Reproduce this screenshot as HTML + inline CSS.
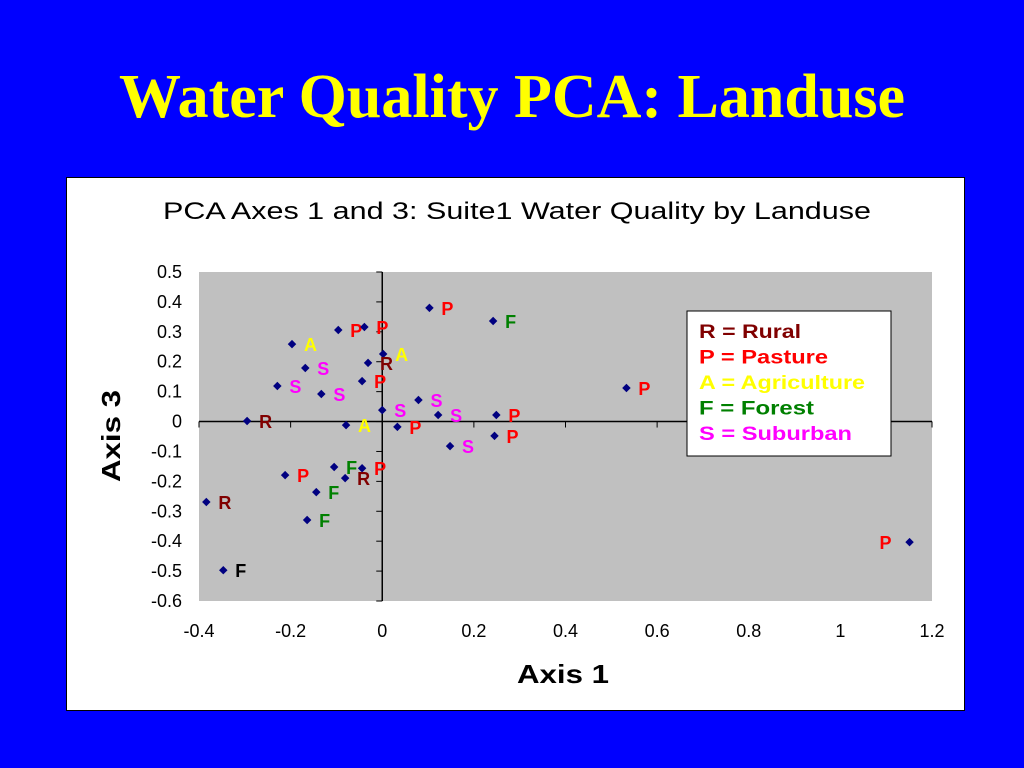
<!DOCTYPE html>
<html><head><meta charset="utf-8"><style>
body{margin:0;width:1024px;height:768px;background:#0000ff;overflow:hidden;font-family:"Liberation Sans",sans-serif}
#title{position:absolute;left:0;top:62px;width:1024px;text-align:center;font:bold 62px "Liberation Serif",serif;color:#ffff00}
#box{position:absolute;left:66px;top:177px;width:897px;height:532px;background:#fff;border:1px solid #000}
</style></head><body>
<div id="title">Water Quality PCA: Landuse</div>
<div id="box"></div>
<svg id="svg" width="1024" height="768" style="position:absolute;left:0;top:0"></svg>
<script>
const xs=[0.103,0.242,-0.096,-0.039,-0.197,0.002,-0.031,-0.168,-0.229,-0.133,-0.044,0.079,0.0,0.122,-0.295,-0.079,0.033,0.249,0.245,0.148,-0.105,-0.044,-0.212,-0.081,-0.144,-0.384,-0.164,-0.347,0.533,1.151];
const ys=[0.380,0.336,0.306,0.316,0.259,0.226,0.196,0.179,0.119,0.092,0.135,0.072,0.038,0.022,0.002,-0.012,-0.018,0.022,-0.048,-0.082,-0.152,-0.156,-0.179,-0.189,-0.236,-0.269,-0.329,-0.497,0.112,-0.403];
const cats=["P","F","P","P","A","A","R","S","S","S","P","S","S","S","R","A","P","P","P","S","F","P","P","R","F","R","F","F","P","P"];
const xTicks=[-0.4,-0.2,0,0.2,0.4,0.6,0.8,1,1.2];
const yTicks=[0.5,0.4,0.3,0.2,0.1,0,-0.1,-0.2,-0.3,-0.4,-0.5,-0.6];
const colors={R:"#800000",P:"#ff0000",A:"#ffff00",F:"#008000",S:"#ff00ff"};
const X0=199,X1=932,Y0=272,Y1=601;
const sx=v=>X0+(v+0.4)/1.6*(X1-X0);
const sy=v=>Y0+(0.5-v)/1.1*(Y1-Y0);
const svg=document.getElementById('svg');const NS="http://www.w3.org/2000/svg";
function mk(t,a,txt){const e=document.createElementNS(NS,t);for(const k in a)e.setAttribute(k,a[k]);if(txt!=null)e.textContent=txt;svg.appendChild(e);return e;}
let e=mk('text',{x:163,y:219,'font-size':24,fill:'#000',textLength:708,lengthAdjust:'spacingAndGlyphs'},'PCA Axes 1 and 3: Suite1 Water Quality by Landuse');

e=mk('rect',{x:X0,y:Y0,width:X1-X0,height:Y1-Y0,fill:'#c0c0c0'});

mk('line',{x1:X0,x2:X1,y1:sy(0),y2:sy(0),stroke:'#000','stroke-width':1.5});
mk('line',{x1:sx(0),x2:sx(0),y1:Y0,y2:Y1,stroke:'#000','stroke-width':1.5});
xTicks.forEach(t=>{mk('line',{x1:sx(t),x2:sx(t),y1:sy(0),y2:sy(0)+6,stroke:'#000'});
 e=mk('text',{x:sx(t),y:637,'text-anchor':'middle','font-size':18},String(t));
 });
yTicks.forEach(t=>{mk('line',{x1:sx(0)-6,x2:sx(0),y1:sy(t),y2:sy(t),stroke:'#000'});
 e=mk('text',{x:182,y:sy(t)+6,'text-anchor':'end','font-size':18},String(t));
 });
xs.forEach((v,i)=>{const px=sx(v),py=sy(ys[i]);
 e=mk('rect',{x:px-3,y:py-3,width:6,height:6,fill:'#000080',transform:`rotate(45 ${px} ${py})`});
 
 const left=v>1;const col=(cats[i]==="F"&&ys[i]<-0.45)?"#000":colors[cats[i]];
 e=mk('text',{x:left?px-30:px+12,y:py+7,'font-size':18,'font-weight':'bold',fill:col},cats[i]);
 });
e=mk('rect',{x:687,y:311,width:204,height:145,fill:'#fff',stroke:'#000'});

[["R = Rural","R",102],["P = Pasture","P",129],["A = Agriculture","A",166],["F = Forest","F",115],["S = Suburban","S",153]].forEach((l,i)=>{
 e=mk('text',{x:699,y:338+i*25.5,'font-size':19,'font-weight':'bold',fill:colors[l[1]],textLength:l[2],lengthAdjust:'spacingAndGlyphs'},l[0]);
 });
e=mk('text',{x:563,y:683,'text-anchor':'middle','font-size':26,'font-weight':'bold',textLength:92,lengthAdjust:'spacingAndGlyphs'},'Axis 1');

e=mk('text',{x:0,y:0,'text-anchor':'middle','font-size':26,'font-weight':'bold',textLength:92,lengthAdjust:'spacingAndGlyphs',transform:'translate(120 436) rotate(-90)'},'Axis 3');

</script>
</body></html>
